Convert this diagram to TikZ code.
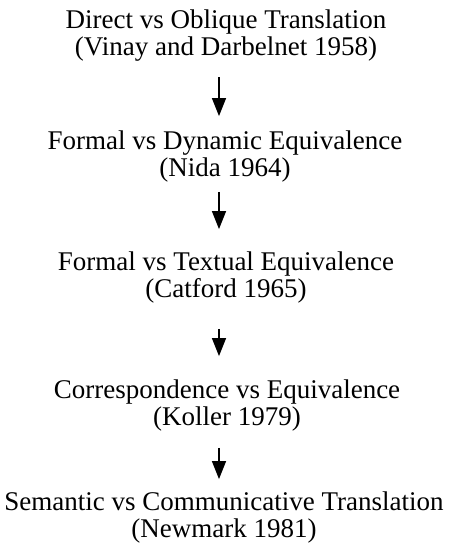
\documentclass[tikz,border=0pt]{standalone}
\usepackage{fontspec}
\setmainfont{Liberation Serif}
\usetikzlibrary{arrows.meta}
\begin{document}
\begin{tikzpicture}[x=1pt,y=-1pt,
  lbl/.style={anchor=base, align=center, inner sep=0pt, font=\fontsize{27}{27}\selectfont},
  arr/.style={line width=1.5pt, -{Triangle[length=18pt,width=14pt]}}]
\useasboundingbox[fill=white] (0,0) rectangle (448,553);
\node[lbl] (n1) at (226,56) {Direct vs Oblique Translation\\(Vinay and Darbelnet 1958)};
\node[lbl] (n2) at (225,177) {Formal vs Dynamic Equivalence\\(Nida 1964)};
\node[lbl] (n3) at (226,297) {Formal vs Textual Equivalence\\(Catford 1965)};
\node[lbl] (n4) at (227,425) {Correspondence vs Equivalence\\(Koller 1979)};
\node[lbl] (n5) at (224,537) {Semantic vs Communicative Translation\\(Newmark 1981)};
\coordinate (ax) at (219,0);
\draw[arr] (n1.south -| ax) ++(0,15) -- ([yshift=15pt]n2.north -| ax);
\draw[arr] (n2.south -| ax) ++(0,9) -- ([yshift=22pt]n3.north -| ax);
\draw[arr] (n3.south -| ax) ++(0,26) -- ([yshift=23pt]n4.north -| ax);
\draw[arr] (n4.south -| ax) ++(0,17) -- ([yshift=12pt]n5.north -| ax);
\end{tikzpicture}
\end{document}
